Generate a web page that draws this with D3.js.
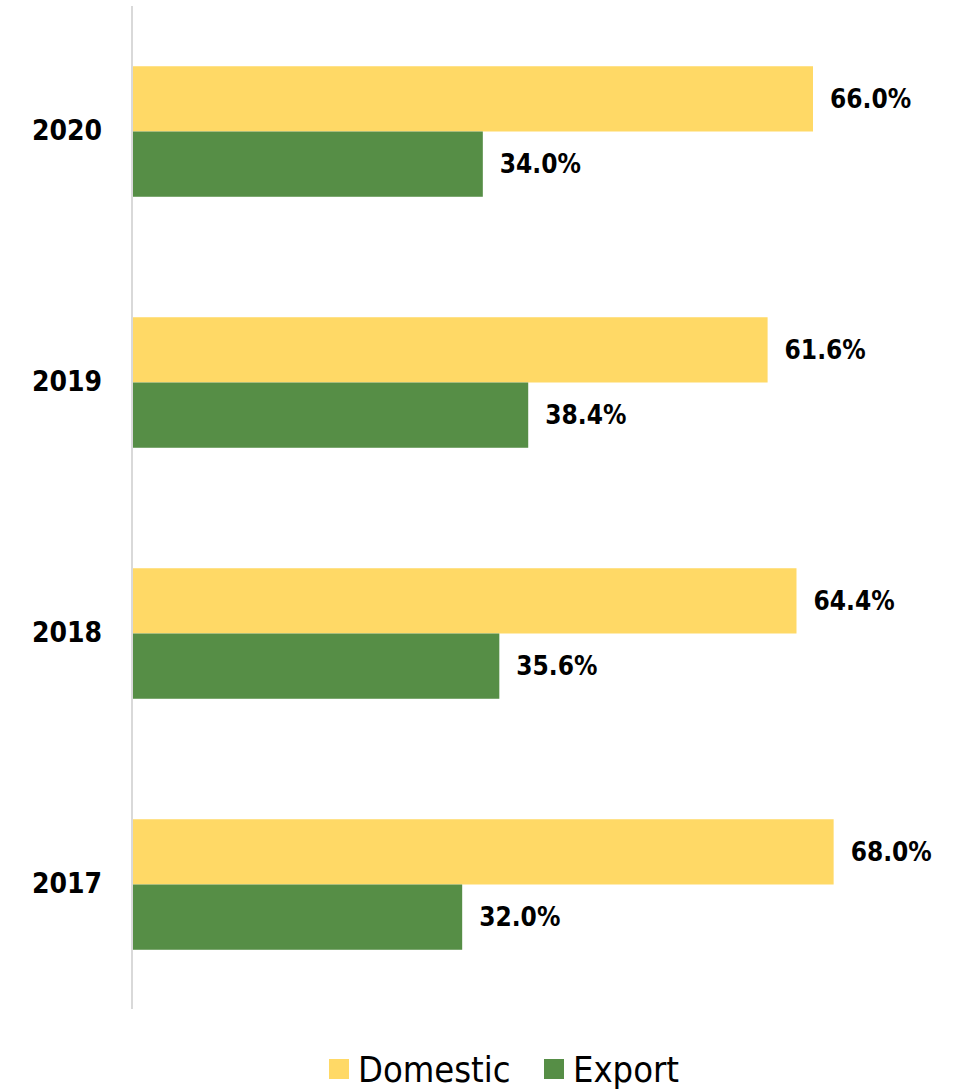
<!DOCTYPE html>
<html>
<head>
<meta charset="utf-8">
<script src="https://d3js.org/d3.v7.min.js"></script>
<style>
    body { margin: 0; background: #fff; }
    .bar-label { font-family: "DejaVu Sans Condensed", "DejaVu Sans", sans-serif; font-weight: bold; }
    .legend text { font-family: "DejaVu Sans Condensed", "DejaVu Sans", sans-serif; }
</style>
</head>
<body>
<div id="chart-area"></div>
<script>

// years, top to bottom
var years = ["2020", "2019", "2018", "2017"];
var seriesNames = ["Domestic", "Export"];
var domestic = [66.0, 61.6, 64.4, 68.0];
var exportShare = [34.0, 38.4, 35.6, 32.0];
var colors = ["#FFD966", "#568E46"];


/*
 * BarVis - Object constructor function
 * @param _parentElement 	-- the HTML element in which to draw the visualization
 */

BarVis = function(_parentElement){
    this.parentElement = _parentElement;
    this.initVis();
}

BarVis.prototype.initVis = function(){
    var vis = this;

    vis.margin = {top: 6, right: 0, bottom: 79, left: 132};
    vis.width = 962 - vis.margin.left - vis.margin.right;
    vis.height = 1089 - vis.margin.top - vis.margin.bottom;

    vis.root = d3.select("#" + vis.parentElement).append("svg")
        .attr("width", 962)
        .attr("height", 1089);

    vis.svg = vis.root.append("g")
        .attr("transform", "translate(" + vis.margin.left + "," + vis.margin.top + ")");

    vis.y = d3.scaleBand()
        .domain(years)
        .range([0, vis.height])
        .paddingInner(0.48)
        .paddingOuter(0.24);

    vis.ySub = d3.scaleBand()
        .domain(seriesNames)
        .range([0, vis.y.bandwidth()]);

    // 66% lands at x = 813
    vis.x = d3.scaleLinear()
        .domain([0, 66])
        .range([0, 681]);

    vis.wrangleData();
}

BarVis.prototype.wrangleData = function(){
    var vis = this;

    vis.dataVis = [];
    years.forEach(function(yr, i){
        vis.dataVis.push({year: yr, series: seriesNames[0], value: domestic[i], color: colors[0]});
        vis.dataVis.push({year: yr, series: seriesNames[1], value: exportShare[i], color: colors[1]});
    });

    vis.updateVis();
}

BarVis.prototype.updateVis = function(){
    var vis = this;

    vis.svg.selectAll(".bar")
        .data(vis.dataVis)
        .enter().append("rect")
        .attr("class", "bar")
        .attr("x", 0)
        .attr("y", function(d){ return vis.y(d.year) + vis.ySub(d.series); })
        .attr("width", function(d){ return vis.x(d.value); })
        .attr("height", vis.ySub.bandwidth())
        .attr("fill", function(d){ return d.color; });

    vis.svg.selectAll(".bar-label")
        .data(vis.dataVis)
        .enter().append("text")
        .attr("class", "bar-label")
        .attr("x", function(d){ return vis.x(d.value) + 17; })
        .attr("y", function(d){ return vis.y(d.year) + vis.ySub(d.series) + vis.ySub.bandwidth() / 2; })
        .attr("dy", "0.36em")
        .style("font-size", "26px")
        .attr("fill", "#000")
        .text(function(d){ return d.value.toFixed(1) + "%"; });

    // category axis
    var yAxis = d3.axisLeft(vis.y).tickSize(0).tickPadding(30);
    var axisG = vis.svg.append("g")
        .attr("class", "y-axis")
        .call(yAxis);
    axisG.select(".domain")
        .attr("stroke", "#d9d9d9")
        .attr("stroke-width", 2)
        .attr("d", "M0,0V" + (vis.height - 1));
    axisG.selectAll("text")
        .attr("class", "bar-label")
        .style("font-size", "28px")
        .attr("fill", "#000");

    // legend
    var legend = vis.root.append("g").attr("class", "legend");
    var legendX = [329, 544];
    seriesNames.forEach(function(name, i){
        legend.append("rect")
            .attr("x", legendX[i])
            .attr("y", 1059)
            .attr("width", 20)
            .attr("height", 20)
            .attr("fill", colors[i]);
        legend.append("text")
            .attr("x", legendX[i] + 29)
            .attr("y", 1069)
            .attr("dy", "0.36em")
            .style("font-size", "36px")
            .attr("fill", "#000")
            .text(name);
    });
}

var barVis = new BarVis("chart-area");

</script>
</body>
</html>
